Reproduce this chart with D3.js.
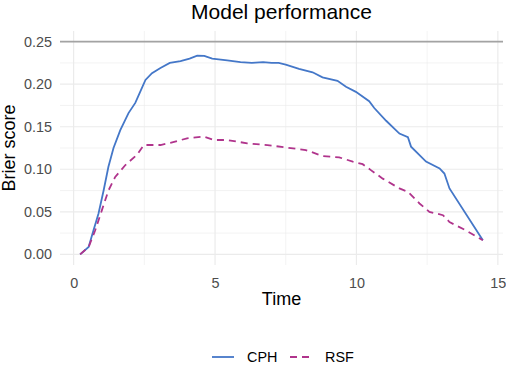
<!DOCTYPE html>
<html>
<head>
<meta charset="utf-8">
<script src="https://cdn.jsdelivr.net/npm/d3@7"></script>
<style>
  body { margin: 0; background: #fff; }
  text { font-family: "Liberation Sans", Arial, sans-serif; }
</style>
</head>
<body>
<svg id="chart" width="506" height="366"></svg>
<script>
// values
var cphTime  = [0.23, 0.53, 0.70, 0.88, 1.06, 1.23, 1.41, 1.65, 1.94, 2.18, 2.38, 2.54, 2.77, 3.07, 3.40, 3.78, 4.10, 4.37, 4.62, 4.90, 5.43, 5.90, 6.30, 6.70, 7.00, 7.25, 7.50, 7.97, 8.45, 8.80, 9.33, 9.63, 9.98, 10.45, 10.63, 11.05, 11.52, 11.82, 11.93, 12.46, 12.94, 13.11, 13.29, 14.47];
var cphScore = [0.000, 0.0086, 0.028, 0.048, 0.075, 0.103, 0.125, 0.146, 0.166, 0.178, 0.193, 0.205, 0.213, 0.219, 0.225, 0.227, 0.230, 0.2335, 0.2333, 0.230, 0.228, 0.226, 0.225, 0.226, 0.225, 0.225, 0.223, 0.218, 0.214, 0.208, 0.204, 0.197, 0.191, 0.180, 0.172, 0.157, 0.142, 0.1376, 0.1266, 0.109, 0.101, 0.095, 0.0775, 0.0165];

var rsfTime  = [0.23, 0.53, 0.76, 1.00, 1.23, 1.47, 1.83, 2.24, 2.48, 3.07, 3.42, 4.01, 4.60, 4.96, 5.43, 6.14, 6.85, 7.50, 8.21, 8.80, 9.39, 9.87, 10.22, 10.51, 10.93, 11.52, 11.82, 12.23, 12.58, 13.06, 13.29, 13.88, 14.47];
var rsfScore = [0.000, 0.0086, 0.028, 0.052, 0.075, 0.091, 0.105, 0.117, 0.1285, 0.1285, 0.131, 0.1364, 0.1384, 0.1344, 0.1344, 0.1305, 0.1285, 0.1256, 0.1226, 0.1156, 0.114, 0.109, 0.106, 0.099, 0.089, 0.0775, 0.0735, 0.0598, 0.050, 0.046, 0.038, 0.028, 0.0165];

var seriesNames = ['CPH', 'RSF'];
var seriesColors = ['#4477c8', '#b0348c'];
var refLine = 0.25;
var xTicks = [0, 5, 10, 15];
var xMinor = [2.5, 7.5, 12.5];
var yTicks = [0, 0.05, 0.10, 0.15, 0.20, 0.25];
var yMinor = [0.025, 0.075, 0.125, 0.175, 0.225];

var svg = d3.select('#chart');
var pl = 60, pr = 503, pt = 31, pb = 265;

var xmin = d3.min(cphTime.concat(rsfTime)), xmax = d3.max(cphTime.concat(rsfTime));
var xpad = (xmax - xmin) * 0.05;
var x = d3.scaleLinear().domain([xmin - xpad, xmax + xpad]).range([pl, pr]);
var ypad = (refLine - 0) * 0.05;
var y = d3.scaleLinear().domain([0 - ypad, refLine + ypad]).range([pb, pt]);

// grid
var grid = svg.append('g');
grid.selectAll('.xminor').data(xMinor).enter().append('line')
	.attr('x1', function(d) { return x(d); }).attr('x2', function(d) { return x(d); })
	.attr('y1', pt).attr('y2', pb)
	.attr('stroke', '#ebebeb').attr('stroke-width', 0.6);
grid.selectAll('.yminor').data(yMinor).enter().append('line')
	.attr('y1', function(d) { return y(d); }).attr('y2', function(d) { return y(d); })
	.attr('x1', pl).attr('x2', pr)
	.attr('stroke', '#ebebeb').attr('stroke-width', 0.6);
grid.selectAll('.xmajor').data(xTicks).enter().append('line')
	.attr('x1', function(d) { return x(d); }).attr('x2', function(d) { return x(d); })
	.attr('y1', pt).attr('y2', pb)
	.attr('stroke', '#ebebeb').attr('stroke-width', 1.2);
grid.selectAll('.ymajor').data(yTicks).enter().append('line')
	.attr('y1', function(d) { return y(d); }).attr('y2', function(d) { return y(d); })
	.attr('x1', pl).attr('x2', pr)
	.attr('stroke', '#ebebeb').attr('stroke-width', 1.2);

// axes (text only, theme_minimal style)
var xAxis = svg.append('g').attr('transform', 'translate(0,' + pb + ')')
	.call(d3.axisBottom(x).tickValues(xTicks).tickSize(0).tickPadding(13).tickFormat(d3.format('d')));
var yAxis = svg.append('g').attr('transform', 'translate(' + pl + ',0)')
	.call(d3.axisLeft(y).tickValues(yTicks).tickSize(0).tickPadding(8).tickFormat(d3.format('.2f')));
[xAxis, yAxis].forEach(function(a) {
	a.select('.domain').remove();
	a.selectAll('text').attr('fill', '#4d4d4d').style('font-size', '14.4px')
		.style('font-family', '"Liberation Sans", Arial, sans-serif');
});

// reference line
svg.append('line')
	.attr('x1', pl).attr('x2', pr)
	.attr('y1', y(refLine)).attr('y2', y(refLine))
	.attr('stroke', '#a3a3a3').attr('stroke-width', 1.6);

// curves
var line = d3.line().x(function(d) { return x(d[0]); }).y(function(d) { return y(d[1]); });
var cph = d3.zip(cphTime, cphScore);
var rsf = d3.zip(rsfTime, rsfScore);
svg.append('path').datum(cph).attr('d', line)
	.attr('fill', 'none').attr('stroke', seriesColors[0]).attr('stroke-width', 1.8);
svg.append('path').datum(rsf).attr('d', line)
	.attr('fill', 'none').attr('stroke', seriesColors[1]).attr('stroke-width', 1.8)
	.attr('stroke-dasharray', '7,5');

// titles
svg.append('text').attr('x', (pl + pr) / 2).attr('y', 19)
	.attr('text-anchor', 'middle').style('font-size', '21px').attr('fill', '#000')
	.text('Model performance');
svg.append('text').attr('x', (pl + pr) / 2).attr('y', 305)
	.attr('text-anchor', 'middle').style('font-size', '18px').attr('fill', '#000')
	.text('Time');
svg.append('text').attr('transform', 'translate(15,' + ((pt + pb) / 2) + ') rotate(-90)')
	.attr('text-anchor', 'middle').style('font-size', '18px').attr('fill', '#000')
	.text('Brier score');

// legend
var lg = svg.append('g').attr('transform', 'translate(0,357)');
var legX = [212, 290];
lg.selectAll('line').data(seriesNames).enter().append('line')
	.attr('x1', function(d, i) { return legX[i]; })
	.attr('x2', function(d, i) { return legX[i] + 22; })
	.attr('y1', 0).attr('y2', 0)
	.attr('stroke', function(d, i) { return seriesColors[i]; })
	.attr('stroke-width', 1.8)
	.attr('stroke-dasharray', function(d, i) { return i === 1 ? '7,5' : null; });
lg.selectAll('text').data(seriesNames).enter().append('text')
	.attr('x', function(d, i) { return legX[i] + 35; })
	.attr('y', 5)
	.style('font-size', '14.4px').attr('fill', '#000')
	.text(function(d) { return d; });
</script>
</body>
</html>
